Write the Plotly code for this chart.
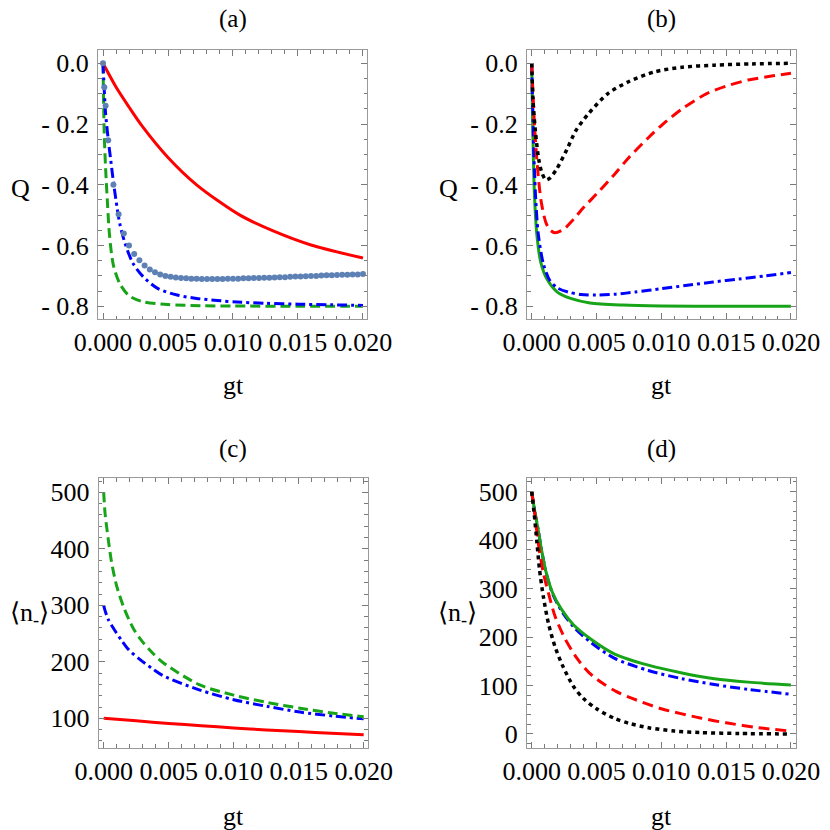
import plotly.graph_objects as go

FONT = "Liberation Serif, Times New Roman, serif"

# ---------------- data ----------------
# panel (a): Q vs gt
a_red_t = [0, 0.001, 0.002, 0.003, 0.005, 0.0072, 0.0105, 0.013, 0.016, 0.02]
a_red_q = [0, -0.078, -0.144, -0.206, -0.31, -0.40, -0.499, -0.55, -0.598, -0.641]

a_green_t = [0, 0.00005, 0.0001, 0.0002, 0.00035, 0.0005, 0.0008, 0.0013, 0.002, 0.003, 0.005, 0.0075, 0.01, 0.015, 0.02]
a_green_q = [0, -0.14, -0.24, -0.345, -0.465, -0.565, -0.665, -0.726, -0.765, -0.784, -0.794, -0.798, -0.799, -0.80, -0.80]

a_blue_t = [0, 0.0001, 0.0002, 0.0004, 0.0006, 0.0008, 0.0011, 0.0013, 0.0017, 0.0023, 0.0031, 0.0042,
            0.0057, 0.0072, 0.0088, 0.0103, 0.0125, 0.015, 0.0175, 0.02]
a_blue_q = [0, -0.09, -0.165, -0.25, -0.32, -0.39, -0.48, -0.53, -0.593, -0.658, -0.703, -0.741,
            -0.763, -0.774, -0.781, -0.786, -0.790, -0.793, -0.795, -0.797]

a_dots_t = [0, 0.0001, 0.0002, 0.0004, 0.0008, 0.0012, 0.0016, 0.0020, 0.0024, 0.0028, 0.0032, 0.0036,
            0.0040, 0.0044, 0.0048, 0.0052, 0.0056, 0.0060, 0.0064, 0.0068, 0.0072, 0.0076, 0.0080,
            0.0084, 0.0088, 0.0092, 0.0096, 0.0100, 0.0104, 0.0108, 0.0112, 0.0116, 0.0120, 0.0124,
            0.0128, 0.0132, 0.0136, 0.0140, 0.0144, 0.0148, 0.0152, 0.0156, 0.0160, 0.0164, 0.0168,
            0.0172, 0.0176, 0.0180, 0.0184, 0.0188, 0.0192, 0.0196, 0.0200]
a_dots_q = [0, -0.079, -0.14, -0.253, -0.40, -0.497, -0.56, -0.60, -0.628, -0.648, -0.666, -0.679,
            -0.688, -0.695, -0.700, -0.703, -0.705, -0.707, -0.708, -0.709, -0.709, -0.710, -0.710,
            -0.710, -0.710, -0.710, -0.709, -0.709, -0.709, -0.708, -0.708, -0.707, -0.707, -0.706,
            -0.706, -0.705, -0.704, -0.704, -0.703, -0.702, -0.702, -0.701, -0.700, -0.700, -0.699,
            -0.698, -0.698, -0.697, -0.696, -0.696, -0.695, -0.695, -0.694]

# panel (b): Q vs gt
b_green_t = [0, 0.00005, 0.0001, 0.0002, 0.0004, 0.0007, 0.0012, 0.002, 0.003, 0.0045, 0.007, 0.01, 0.015, 0.02]
b_green_q = [0, -0.14, -0.25, -0.42, -0.565, -0.655, -0.712, -0.754, -0.774, -0.789, -0.796, -0.799, -0.80, -0.80]

b_blue_t = [0, 0.00005, 0.0001, 0.00015, 0.00023, 0.0003, 0.0005, 0.0009, 0.0014, 0.002, 0.0028, 0.0038,
            0.005, 0.0065, 0.008, 0.010, 0.012, 0.014, 0.016, 0.018, 0.02]
b_blue_q = [0, -0.10, -0.176, -0.28, -0.37, -0.44, -0.56, -0.66, -0.715, -0.74, -0.753, -0.761,
            -0.763, -0.76, -0.753, -0.742, -0.731, -0.72, -0.71, -0.70, -0.689]

b_red_t = [0, 0.0001, 0.00025, 0.0005, 0.00075, 0.0011, 0.0014, 0.0018, 0.0025, 0.0032, 0.004, 0.005,
           0.0064, 0.0075, 0.009, 0.010, 0.0116, 0.0135, 0.015, 0.0167, 0.0185, 0.02]
b_red_q = [0, -0.10, -0.23, -0.37, -0.46, -0.525, -0.548, -0.558, -0.545, -0.515, -0.475, -0.43,
           -0.365, -0.31, -0.245, -0.205, -0.15, -0.10, -0.075, -0.055, -0.042, -0.033]

b_black_t = [0, 0.0001, 0.0003, 0.00055, 0.0008, 0.0011, 0.0014, 0.0019, 0.0027, 0.0034, 0.0044,
             0.0059, 0.0075, 0.0095, 0.0116, 0.0141, 0.017, 0.02]
b_black_q = [0, -0.12, -0.23, -0.318, -0.362, -0.384, -0.378, -0.35, -0.285, -0.222, -0.165,
             -0.099, -0.06, -0.028, -0.013, -0.006, -0.002, 0]

# panel (c): <n_> vs gt
c_red_t = [0, 0.0025, 0.005, 0.0075, 0.01, 0.0125, 0.015, 0.0175, 0.02]
c_red_n = [100, 95.5, 91, 87, 83, 79.5, 76.5, 73.5, 71]

c_blue_t = [0, 0.0001, 0.00035, 0.0009, 0.0014, 0.0019, 0.0028, 0.0038, 0.0046, 0.0074, 0.01,
            0.0126, 0.0151, 0.0177, 0.02]
c_blue_n = [300, 291, 275, 254, 237, 222, 204, 187, 175, 150, 133, 121, 111, 104, 99]

c_green_t = [0, 0.0001, 0.00035, 0.0006, 0.001, 0.0016, 0.0023, 0.0029, 0.0037, 0.0046, 0.0074,
             0.01, 0.0126, 0.0151, 0.0177, 0.02]
c_green_n = [500, 464, 417, 377, 334, 293, 258, 238, 217, 198, 159, 141, 128, 118, 109, 103]

# panel (d): <n_> vs gt
d_green_t = [0, 0.0002, 0.0005, 0.00075, 0.0011, 0.0016, 0.0023, 0.0032, 0.0046, 0.0064, 0.009,
             0.0116, 0.0141, 0.0167, 0.02]
d_green_n = [500, 465, 421, 381, 335, 292, 257, 226, 195, 165, 142, 126, 114, 107, 101]

d_blue_t = [0, 0.0002, 0.0005, 0.00075, 0.0011, 0.0016, 0.0023, 0.0032, 0.0046, 0.0064, 0.009,
            0.0116, 0.0141, 0.0167, 0.02]
d_blue_n = [500, 465, 421, 381, 334, 290, 254, 222, 188, 156, 131, 114, 102, 92, 82]

d_red_t = [0, 0.00023, 0.0005, 0.0009, 0.0013, 0.0018, 0.0026, 0.0035, 0.0044, 0.0055, 0.0065,
           0.0075, 0.009, 0.010, 0.0115, 0.013, 0.015, 0.0175, 0.02]
d_red_n = [500, 455, 395, 332, 290, 243, 195, 156, 127, 104, 88, 76, 61, 52, 42, 33, 23, 13, 6]

d_black_t = [0, 0.0002, 0.0004, 0.0006, 0.0009, 0.0013, 0.0018, 0.0024, 0.0032, 0.004, 0.005,
             0.0064, 0.0075, 0.009, 0.011, 0.013, 0.016, 0.02]
d_black_n = [500, 452, 396, 340, 283, 227, 180, 140, 99, 73, 52, 32, 22, 13, 6, 3, 1, 0]

# ticks
x_tickvals = [0, 0.005, 0.01, 0.015, 0.02]
x_ticktext = ["0.000", "0.005", "0.010", "0.015", "0.020"]
q_tickvals = [0, -0.2, -0.4, -0.6, -0.8]
q_ticktext = ["0.0", "- 0.2", "- 0.4", "- 0.6", "- 0.8"]
c_tickvals = [100, 200, 300, 400, 500]
d_tickvals = [0, 100, 200, 300, 400, 500]

# ---------------- styles ----------------
RED = "#ff0000"
GREEN = "#18a418"
BLUE = "#0000ff"
BLACK = "#000000"
DOTC = "#5e81b5"
LW = 3
DASH = "10px,5px"
DASHDOT = "10px,4px,3px,4px"
DOT = "4px,4px"
RDASH = "11px,6px"

fig = go.Figure()


def line(t, v, color, dash, ax, width=LW):
    fig.add_trace(go.Scatter(x=t, y=v, mode="lines",
                             line=dict(color=color, width=width, dash=dash, shape="spline", smoothing=0.8),
                             xaxis="x" + ax, yaxis="y" + ax, hoverinfo="skip"))


# (a)
line(a_red_t, a_red_q, RED, "solid", "")
line(a_green_t, a_green_q, GREEN, DASH, "")
line(a_blue_t, a_blue_q, BLUE, DASHDOT, "")
fig.add_trace(go.Scatter(x=a_dots_t, y=a_dots_q, mode="markers",
                         marker=dict(color=DOTC, size=6, line=dict(width=0)),
                         xaxis="x", yaxis="y", hoverinfo="skip"))
# (b)
line(b_green_t, b_green_q, GREEN, "solid", "2")
line(b_blue_t, b_blue_q, BLUE, DASHDOT, "2")
line(b_red_t, b_red_q, RED, RDASH, "2")
line(b_black_t, b_black_q, BLACK, DOT, "2", width=3.5)
# (c)
line(c_red_t, c_red_n, RED, "solid", "3")
line(c_blue_t, c_blue_n, BLUE, DASHDOT, "3")
line(c_green_t, c_green_n, GREEN, DASH, "3")
# (d)
line(d_blue_t, d_blue_n, BLUE, DASHDOT, "4")
line(d_green_t, d_green_n, GREEN, "solid", "4")
line(d_red_t, d_red_n, RED, RDASH, "4")
line(d_black_t, d_black_n, BLACK, DOT, "4", width=3.5)

W = H = 830.0
FRAME = "#9a9a9a"
TICKC = "#7a7a7a"
TICKSIZE = 26
common = dict(showline=True, linecolor=FRAME, linewidth=1, mirror="ticks", ticks="inside",
              ticklen=6, tickwidth=1, tickcolor=TICKC, showgrid=False, zeroline=False,
              automargin=False,
              tickfont=dict(family=FONT, size=TICKSIZE, color="black"), tickmode="array")


def xax(l, r, rng, anchor):
    return dict(common, domain=[l / W, r / W], range=rng, anchor=anchor,
                tickvals=x_tickvals, ticktext=x_ticktext, ticklabelstandoff=0,
                minor=dict(tickmode="linear", tick0=0, dtick=0.001, ticks="inside", ticklen=3.5,
                           tickcolor=TICKC, showgrid=False))


def yax(top, bot, rng, anchor, vals, text, mdt):
    return dict(common, domain=[1 - bot / H, 1 - top / H], range=rng, anchor=anchor,
                tickvals=vals, ticktext=text, ticklabelstandoff=3,
                minor=dict(tickmode="linear", tick0=0, dtick=mdt, ticks="inside", ticklen=3.5,
                           tickcolor=TICKC, showgrid=False))


xa_rng = [-0.000385, 0.02031]
xb_rng = [-0.000363, 0.02039]
q_rng = [-0.8418, 0.0438]

fig.update_layout(
    width=830, height=830, autosize=False, margin=dict(l=0, r=0, t=0, b=0, pad=0, autoexpand=False),
    paper_bgcolor="white", plot_bgcolor="white", showlegend=False,
    xaxis=xax(98, 367, xa_rng, "y"),
    yaxis=yax(50, 319, q_rng, "x", q_tickvals, q_ticktext, 0.05),
    xaxis2=xax(527, 796, xb_rng, "y2"),
    yaxis2=yax(50, 319, q_rng, "x2", q_tickvals, q_ticktext, 0.05),
    xaxis3=xax(98.7, 367.7, xa_rng, "y3"),
    yaxis3=yax(478.3, 747.7, [48.0, 524.8], "x3", c_tickvals, [str(v) for v in c_tickvals], 20),
    xaxis4=xax(527, 796, xb_rng, "y4"),
    yaxis4=yax(477.7, 747.7, [-28.3, 528.8], "x4", d_tickvals, [str(v) for v in d_tickvals], 20),
)

ann = []


def text(x, y, s, size=26):
    ann.append(dict(x=x / W, y=1 - y / H, xref="paper", yref="paper", text=s, showarrow=False,
                    xanchor="center", yanchor="middle", font=dict(family=FONT, size=size, color="black")))


text(232.5, 19, "(a)", 25)
text(661.5, 19, "(b)", 25)
text(232.5, 449, "(c)", 25)
text(661.5, 449, "(d)", 25)
text(233, 386, "gt")
text(661.7, 386, "gt")
text(233, 816, "gt")
text(661.7, 816, "gt")
text(20, 188, "Q")
text(448.5, 188, "Q")
text(29, 614, "⟨n<sub>-</sub>⟩")
text(457.5, 614, "⟨n<sub>-</sub>⟩")
fig.update_layout(annotations=ann)

fig.write_html("out.html", config={"responsive": False, "displayModeBar": False},
               post_script="document.body.style.margin='0';document.body.style.overflow='hidden';")
